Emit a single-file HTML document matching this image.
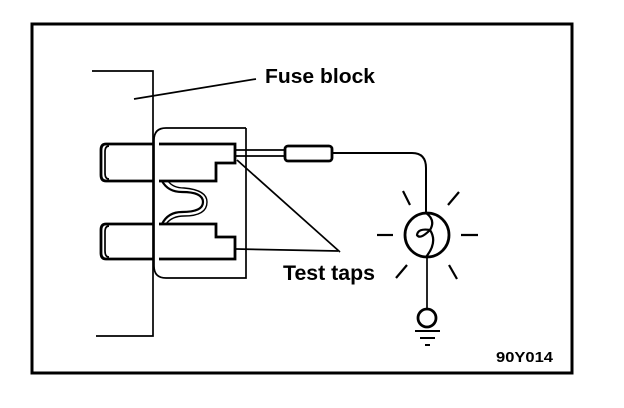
<!DOCTYPE html>
<html><head><style>
html,body{margin:0;padding:0;background:#fff;}
svg{display:block;}
text{font-family:"Liberation Sans",Arial,sans-serif;fill:#000;}
</style></head><body>
<svg width="624" height="408" viewBox="0 0 624 408" xmlns="http://www.w3.org/2000/svg">
<rect x="32" y="24" width="540" height="349" fill="none" stroke="#000" stroke-width="3"/>
<g fill="none" stroke="#000" stroke-width="1.7">
<polyline points="92,71 153,71 153,336 96,336"/>
<line x1="134" y1="99" x2="256" y2="79"/>
<path d="M246,128 V278 H166 Q154,278 154,266 V140 Q154,128 166,128 H246" />
<path d="M159,144 H235 V163 H216 V181 H159" stroke-width="2.8"/>
<path d="M159,224 H216 V237 H235 V259 H159" stroke-width="2.8"/>
<path d="M153,144 H106 Q101,144 101,150 V175 Q101,181 106,181 H153" stroke-width="2.8"/>
<path d="M109,146 Q105,146 105,152 V173 Q105,179 109,179" />
<path d="M153,224 H106 Q101,224 101,230 V253 Q101,259 106,259 H153" stroke-width="2.8"/>
<path d="M109,226 Q105,226 105,232 V251 Q105,257 109,257" />
<path d="M162,181 Q168,192 182,192 Q203,192 203,202 Q203,212 182,212 Q168,212 162,224" stroke-width="2.2"/>
<path d="M168,181 Q173,188 184,188 Q207,190 207,202 Q207,216 184,216 Q172,216 166,224" stroke-width="1.4"/>
<line x1="235" y1="150" x2="285" y2="150"/>
<line x1="235" y1="156" x2="285" y2="156"/>
<rect x="285" y="146" width="47" height="15" rx="3" stroke-width="2.8"/>
<path d="M332,153 H412 Q426,153 426,168 V213" stroke-width="2"/>
<circle cx="427" cy="235" r="22" stroke-width="2.8"/>
<path d="M426,213 Q436,220 430,230 Q420,240 417,235 Q418,228 430,230 Q438,242 426,257" stroke-width="2.2"/>
<line x1="427" y1="257" x2="427" y2="309"/>
<circle cx="427" cy="318" r="9" stroke-width="2.8"/>
<line x1="415" y1="331" x2="440" y2="331" stroke-width="2"/>
<line x1="420" y1="338" x2="435" y2="338" stroke-width="2"/>
<line x1="425" y1="345" x2="430" y2="345" stroke-width="2"/>
<g stroke-width="2.2">
<line x1="377" y1="235" x2="393" y2="235"/>
<line x1="461" y1="235" x2="478" y2="235"/>
<line x1="403" y1="191" x2="410" y2="205"/>
<line x1="448" y1="205" x2="459" y2="192"/>
<line x1="396" y1="278" x2="407" y2="265"/>
<line x1="449" y1="265" x2="457" y2="279"/>
</g>
<line x1="237" y1="160" x2="340" y2="252"/>
<line x1="236" y1="249" x2="338" y2="251"/>
</g>
<text x="265" y="83" font-size="20" font-weight="bold" textLength="110" lengthAdjust="spacingAndGlyphs">Fuse block</text>
<text x="283" y="280" font-size="21" font-weight="bold" textLength="92" lengthAdjust="spacingAndGlyphs">Test taps</text>
<text x="496" y="362" font-size="15" font-weight="bold" textLength="57" lengthAdjust="spacingAndGlyphs">90Y014</text>
</svg>
</body></html>
